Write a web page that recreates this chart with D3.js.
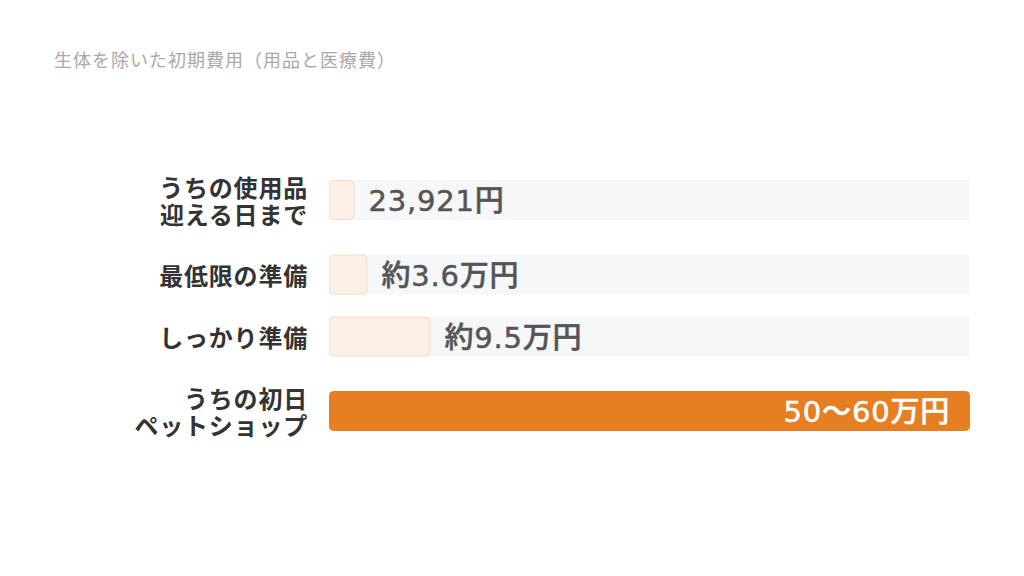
<!DOCTYPE html>
<html>
<head>
<meta charset="utf-8">
<script src="https://cdn.jsdelivr.net/npm/d3@7"></script>
<style>
  html, body { margin: 0; padding: 0; background: #fff; }
  svg { display: block; font-family: "Noto Sans CJK JP", "Noto Sans", sans-serif; }
</style>
</head>
<body>
<div id="chart"></div>
<script>
// data
const title = '生体を除いた初期費用（用品と医療費）';
const categories = [
  ['うちの使用品', '迎える日まで'],
  ['最低限の準備'],
  ['しっかり準備'],
  ['うちの初日', 'ペットショップ']
];
const values = [23921, 36000, 95000, 600000];
const valueLabels = ['23,921円', '約3.6万円', '約9.5万円', '50〜60万円'];
const highlight = [false, false, false, true];
const maxValue = 600000;

const W = 1024, H = 576;
const barLeft = 329, barRight = 970;
const barH = 40, twoLineH = 65, gap = 22, rowTop = 167.5;
const lineGap = 27;

const svg = d3.select('#chart').append('svg')
  .attr('width', W)
  .attr('height', H);

svg.append('text')
  .attr('x', 54)
  .attr('y', 67)
  .attr('fill', '#a9a9a9')
  .attr('font-size', 18)
  .attr('letter-spacing', 1)
  .text(title);

const x = d3.scaleLinear([0, maxValue], [barLeft, barRight]);

// row centres, taller rows for two-line labels
let acc = rowTop;
const rows = categories.map((cat, i) => {
  const h = cat.length > 1 ? twoLineH : barH;
  const cy = acc + h / 2;
  acc += h + gap;
  return { cat, value: values[i], label: valueLabels[i], hi: highlight[i], cy };
});

const g = svg.selectAll('g.row')
  .data(rows)
  .join('g')
  .attr('class', 'row');

// track
g.append('rect')
  .attr('x', x(0))
  .attr('y', d => d.cy - barH / 2)
  .attr('width', x(maxValue) - x(0))
  .attr('height', barH)
  .attr('rx', 4)
  .attr('fill', '#f6f7f9');

// bars
g.append('rect')
  .attr('x', x(0) + 0.5)
  .attr('y', d => d.cy - barH / 2 + 0.5)
  .attr('width', d => x(d.value) - x(0) - 1)
  .attr('height', barH - 1)
  .attr('rx', 4)
  .attr('fill', d => d.hi ? '#e67e22' : '#fcf0e6')
  .attr('stroke', d => d.hi ? '#e67e22' : '#f8dcc4')
  .attr('stroke-width', 1);

// category labels (one text, a tspan per line)
g.append('text')
  .attr('text-anchor', 'end')
  .attr('fill', '#333')
  .attr('font-size', 24)
  .attr('font-weight', 700)
  .attr('letter-spacing', 0.8)
  .each(function(d) {
    const n = d.cat.length;
    d3.select(this).selectAll('tspan')
      .data(d.cat)
      .join('tspan')
      .attr('x', 308)
      .attr('y', (t, j) => d.cy + (j - (n - 1) / 2) * lineGap)
      .attr('dominant-baseline', 'central')
      .text(t => t);
  });

// value labels
g.append('text')
  .attr('x', d => d.hi ? x(d.value) - 20 : x(d.value) + 14)
  .attr('y', d => d.cy + 1)
  .attr('dominant-baseline', 'central')
  .attr('text-anchor', d => d.hi ? 'end' : 'start')
  .attr('fill', d => d.hi ? '#fff' : '#555')
  .attr('stroke', d => d.hi ? '#fff' : '#555')
  .attr('stroke-width', 0.5)
  .attr('font-family', '"DejaVu Sans", "Noto Sans CJK JP", sans-serif')
  .attr('font-size', 29)
  .attr('font-weight', 500)
  .attr('letter-spacing', 0.8)
  .text(d => d.label);
</script>
</body>
</html>
